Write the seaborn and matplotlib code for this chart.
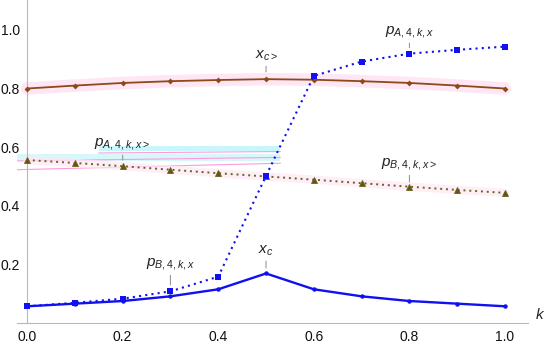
import numpy as np
import pandas as pd
import matplotlib
matplotlib.use("Agg")
import matplotlib.pyplot as plt
from matplotlib.ticker import MultipleLocator, FixedLocator
import seaborn as sns

# -------------------------
# Data
# -------------------------
k_vals = [0.0, 0.1, 0.2, 0.3, 0.4, 0.5, 0.6, 0.7, 0.8, 0.9, 1.0]
x_c = [0.057, 0.066, 0.075, 0.091, 0.115, 0.169, 0.115, 0.091, 0.075, 0.066, 0.057]
x_c_gt = [0.800, 0.810, 0.819, 0.825, 0.829, 0.832, 0.830, 0.825, 0.819, 0.810, 0.800]
p_4kx = [0.057, 0.069, 0.083, 0.108, 0.158, 0.502, 0.843, 0.892, 0.919, 0.932, 0.943]
p_4kx_gt = [0.556, 0.546, 0.535, 0.523, 0.511, 0.500, 0.489, 0.477, 0.465, 0.454, 0.444]

# (label, k, leader top y, leader bottom y)
labels = [
    (r"$x_{c>}$", 0.5, 0.887, 0.857),
    (r"$p_{A,4,k,x}$", 0.8, 0.966, 0.939),
    (r"$p_{B,4,k,x>}$", 0.8, 0.515, 0.481),
    (r"$p_{A,4,k,x>}$", 0.2, 0.584, 0.556),
    (r"$p_{B,4,k,x}$", 0.3, 0.174, 0.130),
    (r"$x_c$", 0.5, 0.222, 0.188),
]

df = pd.DataFrame({"k": k_vals, "x_c": x_c, "x_c_gt": x_c_gt,
                   "p_4kx": p_4kx, "p_4kx_gt": p_4kx_gt})

# -------------------------
# Style
# -------------------------
sns.set_style("white")
plt.rcParams["font.family"] = ["Liberation Sans", "DejaVu Sans"]
plt.rcParams["mathtext.fontset"] = "custom"
plt.rcParams["mathtext.it"] = "Liberation Sans:italic"
plt.rcParams["mathtext.rm"] = "Liberation Sans"

BLUE = "#1010f0"
BROWN = "#8c4a17"
OLIVE = "#5c6a1a"
AXIS_GREY = "#b8b8b8"

fig = plt.figure(figsize=(5.5, 3.45), dpi=100)
ax = fig.add_axes([17 / 550, 22 / 345, 511 / 550, 323 / 345])

# soft pink / cyan glow artifacts seen in the reference
sns.lineplot(data=df, x="k", y="x_c_gt", ax=ax, color="#ffe0f3", lw=9,
             alpha=0.8, zorder=1, legend=False)
sns.lineplot(data=df, x="k", y="p_4kx_gt", ax=ax, color="#ffe8f5", lw=6,
             alpha=0.7, zorder=1, legend=False)
ax.fill_between([0.15, 0.53], 0.588, 0.603, color="#c4f6fa", alpha=0.9, lw=0, zorder=0.5)
ax.fill_between([-0.021, 0.53], 0.553, 0.575, color="#cdf7fa", alpha=0.8, lw=0, zorder=0.5)
ax.plot([0.15, 0.53], [0.580, 0.585], color="#ff9ad8", lw=0.8, zorder=0.6)
ax.plot([-0.021, 0.53], [0.553, 0.565], color="#ff9ad8", lw=0.8, zorder=0.6)
ax.plot([-0.021, 0.53], [0.523, 0.545], color="#ff9ad8", lw=0.8, zorder=0.6)

# series
sns.lineplot(data=df, x="k", y="x_c_gt", ax=ax, color=BROWN, lw=1.3,
             marker="D", markersize=3, markeredgewidth=0, legend=False, zorder=3)
sns.lineplot(data=df, x="k", y="p_4kx_gt", ax=ax, color=OLIVE, lw=1.4,
             linestyle=(0, (1, 2)), marker="^", markersize=4.5,
             markerfacecolor="#7a4a16", markeredgecolor=OLIVE, markeredgewidth=0.6,
             legend=False, zorder=3)
sns.lineplot(data=df, x="k", y="p_4kx", ax=ax, color=BLUE, lw=1.5,
             linestyle=(0, (1, 2)), marker="s", markersize=3.8, markeredgewidth=0,
             legend=False, zorder=4)
sns.lineplot(data=df, x="k", y="x_c", ax=ax, color=BLUE, lw=1.7,
             marker="o", markersize=3.2, markeredgewidth=0, legend=False, zorder=4)

# labels with short leader lines
for text, kk, top, bot in labels:
    ax.annotate(text, xy=(kk, bot), xytext=(kk, top), ha="center", va="bottom",
                fontsize=11, color="#222222",
                arrowprops=dict(arrowstyle="-", color="#999999", lw=0.8,
                                shrinkA=0, shrinkB=0))

# axes (Mathematica look)
ax.set_xlim(-0.021, 1.048)
ax.set_ylim(0.0, 1.102)
ax.spines["left"].set_position(("data", 0.0))
ax.spines["right"].set_visible(False)
ax.spines["top"].set_visible(False)
for s in ("left", "bottom"):
    ax.spines[s].set_color(AXIS_GREY)
    ax.spines[s].set_linewidth(0.8)

ax.xaxis.set_major_locator(FixedLocator([0.0, 0.2, 0.4, 0.6, 0.8, 1.0]))
ax.xaxis.set_minor_locator(MultipleLocator(0.05))
ax.yaxis.set_major_locator(FixedLocator([0.2, 0.4, 0.6, 0.8, 1.0]))
ax.yaxis.set_minor_locator(MultipleLocator(0.05))
ax.tick_params(which="both", direction="in", color=AXIS_GREY, labelsize=10,
               labelcolor="#111111")
ax.tick_params(which="major", length=4, width=0.8, pad=5)
ax.tick_params(which="minor", length=2, width=0.6)
ax.set_xticklabels(["0.0", "0.2", "0.4", "0.6", "0.8", "1.0"])
ax.set_yticklabels(["0.2", "0.4", "0.6", "0.8", "1.0"])
ax.set_xlabel("")
ax.set_ylabel("")
ax.annotate(r"$k$", xy=(1, 0), xycoords="axes fraction", xytext=(5, 1),
            textcoords="offset points", ha="left", va="bottom", fontsize=11,
            annotation_clip=False)

fig.savefig("out.png", dpi=100)
